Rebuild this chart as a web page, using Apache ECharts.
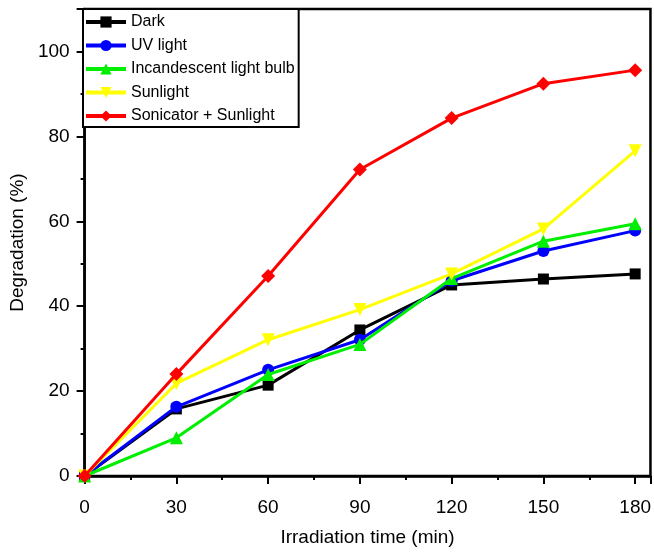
<!DOCTYPE html>
<html>
<head>
<meta charset="utf-8">
<script src="https://cdn.jsdelivr.net/npm/echarts@6/dist/echarts.min.js"></script>
<style>
  html, body { margin: 0; padding: 0; background: #ffffff; }
  #chart { width: 654px; height: 552px; }
</style>
</head>
<body>
<div id="chart"></div>
<script>
// Irradiation times (min)
const times = [0, 30, 60, 90, 120, 150, 180];

// Degradation (%) for each condition
const dark = [0, 15.8, 21.4, 34.4, 45.0, 46.4, 47.6];
const uvLight = [0, 16.3, 25.0, 32.1, 46.0, 53.0, 57.8];
const incandescent = [0, 9.0, 23.9, 31.0, 46.5, 55.3, 59.4];
const sunlight = [0, 21.8, 32.1, 39.2, 47.6, 58.2, 76.6];
const sonicatorSunlight = [0, 24.0, 47.1, 72.2, 84.3, 92.4, 95.6];

const seriesNames = ['Dark', 'UV light', 'Incandescent light bulb', 'Sunlight', 'Sonicator + Sunlight'];
const seriesValues = [dark, uvLight, incandescent, sunlight, sonicatorSunlight];
const seriesColors = ['#000000', '#0000ff', '#00ee00', '#ffff00', '#ff0000'];
const seriesSymbols = ['rect', 'circle', 'triangle', 'triangle', 'diamond'];
const symbolRotations = [0, 0, 0, 180, 0];
const symbolSizes = [11, 12, 13, 13, 14];

const font = 'Arial, "Liberation Sans", Helvetica, sans-serif';

const chart = echarts.init(document.getElementById('chart'), null, { renderer: 'canvas' });

const series = seriesNames.map((name, i) => ({
  name: name,
  type: 'line',
  data: times.map((t, j) => [t, seriesValues[i][j]]),
  symbol: seriesSymbols[i],
  symbolRotate: symbolRotations[i],
  symbolSize: symbolSizes[i],
  showAllSymbol: true,
  lineStyle: { color: seriesColors[i], width: 3 },
  itemStyle: { color: seriesColors[i] },
  emphasis: { disabled: true },
  animation: false,
  z: 2 + i
}));

chart.setOption({
  animation: false,
  backgroundColor: '#ffffff',
  textStyle: { fontFamily: font, color: '#000' },
  grid: {
    left: 84, right: 2, top: 9, bottom: 72,
    show: true,
    borderColor: '#000',
    borderWidth: 2.5,
    backgroundColor: 'transparent'
  },
  legend: {
    orient: 'vertical',
    left: 83,
    top: 9,
    padding: [5, 4, 3, 1],
    borderColor: '#000',
    borderWidth: 2,
    backgroundColor: '#ffffff',
    itemWidth: 40,
    itemHeight: 14,
    itemGap: 7.5,
    lineStyle: { width: 4 },
    textStyle: { fontSize: 16, fontFamily: font, color: '#000', lineHeight: 14 },
    data: seriesNames,
    z: 20
  },
  xAxis: {
    type: 'value',
    min: 0,
    max: 185,
    interval: 30,
    name: 'Irradiation time (min)',
    nameLocation: 'middle',
    nameGap: 52,
    nameTextStyle: { fontSize: 19, color: '#000', fontFamily: font },
    axisLine: { show: true, lineStyle: { color: '#000', width: 2.5 } },
    axisTick: { show: true, inside: false, length: 8, lineStyle: { color: '#000', width: 2 } },
    minorTick: { show: true, splitNumber: 2, length: 4, lineStyle: { color: '#000', width: 2 } },
    axisLabel: { fontSize: 19, color: '#000', margin: 22, showMaxLabel: false, fontFamily: font },
    splitLine: { show: false },
    minorSplitLine: { show: false }
  },
  yAxis: {
    type: 'value',
    min: 0,
    max: 110,
    interval: 20,
    name: 'Degradation (%)',
    nameLocation: 'middle',
    nameGap: 52,
    nameTextStyle: { fontSize: 19, color: '#000', fontFamily: font },
    axisLine: { show: true, lineStyle: { color: '#000', width: 2.5 } },
    axisTick: { show: true, inside: false, length: 8, lineStyle: { color: '#000', width: 2 } },
    minorTick: { show: true, splitNumber: 2, length: 4, lineStyle: { color: '#000', width: 2 } },
    axisLabel: { fontSize: 19, color: '#000', margin: 15, showMaxLabel: false, fontFamily: font },
    splitLine: { show: false },
    minorSplitLine: { show: false }
  },
  series: series
});
</script>
</body>
</html>
